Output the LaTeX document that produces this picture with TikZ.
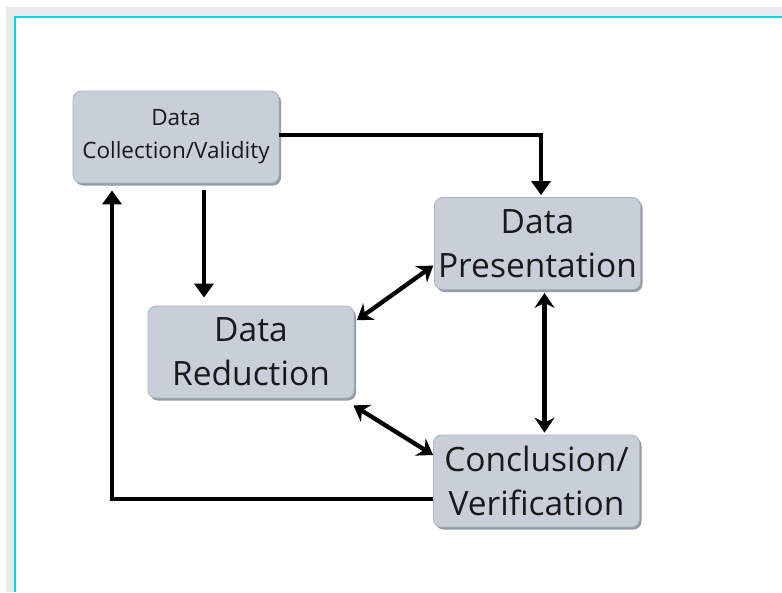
\documentclass[tikz,border=0pt]{standalone}
\usepackage{fontspec}
\setmainfont{Open Sans}
\usepackage{xcolor}
\usetikzlibrary{arrows.meta, shadows}

\definecolor{boxfill}{RGB}{201,207,217}
\definecolor{boxline}{RGB}{172,180,192}
\definecolor{boxshade}{RGB}{148,156,168}
\definecolor{framegray}{RGB}{232,234,237}
\definecolor{framecyan}{RGB}{0,218,224}

\begin{document}
\begin{tikzpicture}[x=1pt, y=-1pt,
    stage/.style={draw=boxline, line width=0.8pt, fill=boxfill, rounded corners=8pt,
      minimum width=206pt, minimum height=92pt, inner sep=0pt, align=center,
      text=black!90, drop shadow={shadow xshift=2pt, shadow yshift=-2.5pt,
      fill=boxshade, opacity=1}},
    bigtext/.style={font=\fontsize{33.5}{44}\selectfont},
    smalltext/.style={font=\fontsize{22.5}{33}\selectfont},
    flow/.style={line width=4.3pt, -{Triangle[width=19pt, length=14pt]}},
    both/.style={line width=4.3pt, {Stealth[width=20pt, length=15pt, inset=5pt]}-{Stealth[width=20pt, length=15pt, inset=5pt]}}]
  \useasboundingbox (0,0) rectangle (782,592);

  % Frame
  \fill[framegray] (6,7) rectangle (782,592);
  \fill[white] (14,16) rectangle (782,592);
  \draw[framecyan, line width=2pt] (15,592) -- (15,17) -- (782,17);

  % Stages
  \node[stage, smalltext] (coll) at (176,137) {Data\\Collection/Validity};
  \node[stage, bigtext] (pres) at (537.5,243.5) {Data\\Presentation};
  \node[stage, bigtext] (red) at (251,352) {Data\\Reduction};
  \node[stage, bigtext] (concl) at (536.5,481) {Conclusion/\\Verification};

  % Arrows
  \draw[flow, shorten <=7pt, shorten >=8pt]
     ([xshift=28pt]coll.south) -- ([xshift=28pt]coll.south |- red.north);
  \draw[flow, shorten >=2pt]
     ([yshift=2pt]coll.east) -| ([xshift=3.5pt]pres.north);
  \draw[flow, shorten >=7pt]
     ([yshift=-18pt]concl.west) -| ([xshift=-64pt]coll.south);
  \draw[both, shorten <=3pt, shorten >=2pt]
     ([xshift=7pt]pres.south) -- ([xshift=7pt]pres.south |- concl.north);
  \draw[both, shorten <=3pt, shorten >=1pt]
     ([yshift=30pt]red.east) -- ([yshift=-21.5pt]pres.west);
  \draw[both]
     ([xshift=-1pt, yshift=-7pt]red.south east) -- ([yshift=26pt]concl.west);
\end{tikzpicture}
\end{document}
